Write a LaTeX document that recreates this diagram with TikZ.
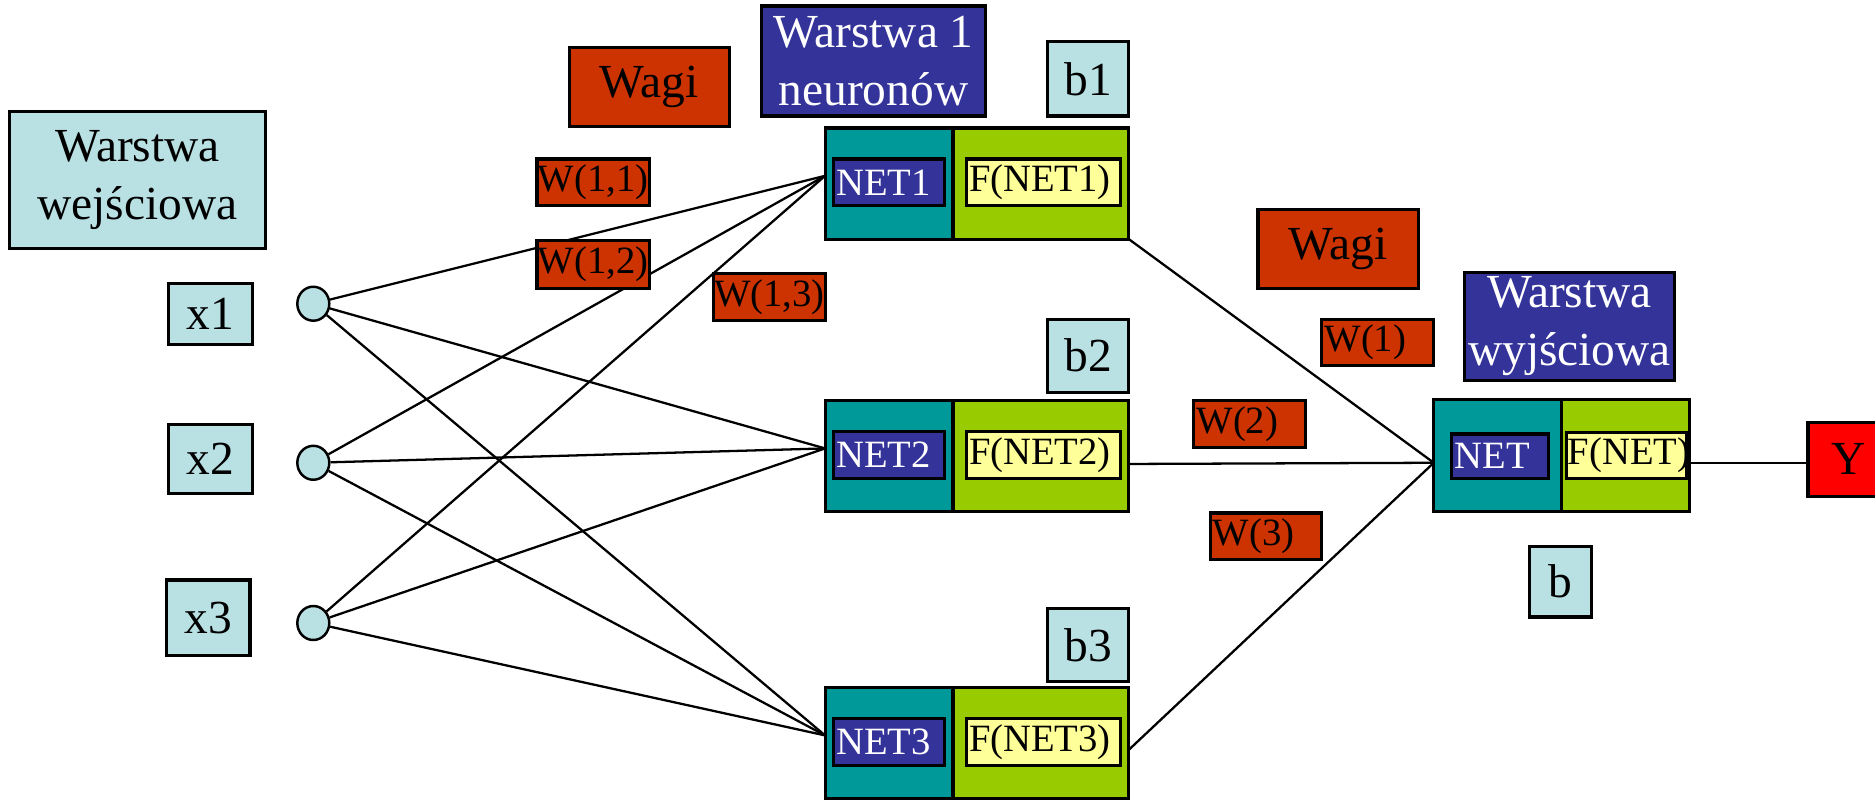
\documentclass[tikz,border=0pt]{standalone}
\usepackage{fontspec}
\setmainfont{Liberation Serif}
\usetikzlibrary{shapes.geometric,backgrounds}
\definecolor{lblue}{RGB}{185,224,227}
\definecolor{rust}{RGB}{204,51,0}
\definecolor{dblue}{RGB}{51,51,153}
\definecolor{tealb}{RGB}{0,153,153}
\definecolor{lgreen}{RGB}{153,204,0}
\definecolor{lyellow}{RGB}{255,255,153}
\definecolor{pred}{RGB}{255,0,0}
% \rbox{style}{name}{x1}{y1}{x2}{y2}{text}
\newcommand{\rbox}[7]{%
  \pgfmathsetmacro{\rcx}{(#3+#5)/2}%
  \pgfmathsetmacro{\rcy}{(#4+#6)/2}%
  \pgfmathsetmacro{\rww}{(#5-#3)*0.011958}%
  \pgfmathsetmacro{\rhh}{(#6-#4)*0.011958}%
  \node[#1, minimum width=\rww cm, minimum height=\rhh cm] (#2) at (\rcx,\rcy) {#7};%
}
\begin{document}
\begin{tikzpicture}[x=0.011958cm, y=-0.011958cm,
  bx/.style={draw=black, line width=0.9pt, inner sep=0pt, outer sep=0pt, align=center},
  bigf/.style={font=\fontsize{13.5}{16.5}\selectfont},
  smf/.style={font=\fontsize{11}{12}\selectfont},
  inbox/.style={bx, fill=lblue, bigf},
  wbox/.style={bx, fill=rust, smf},
  wagibox/.style={bx, fill=rust, bigf},
  layerbox/.style={bx, fill=dblue, text=white, bigf},
  tealpart/.style={bx, fill=tealb},
  greenpart/.style={bx, fill=lgreen},
  netbox/.style={bx, fill=dblue},
  fbox/.style={bx, fill=lyellow},
  nettext/.style={smf, text=white, inner sep=0.6pt, anchor=west},
  ftext/.style={smf, text=black, inner sep=0.6pt, anchor=west},
  inode/.style={draw=black, line width=0.7pt, fill=lblue, ellipse, inner sep=0pt},
  conn/.style={draw=black, line width=0.65pt}
]
\useasboundingbox (0,0) rectangle (1568,669);

% input layer
\rbox{inbox}{lin}{8}{93}{222}{208}{Warstwa\\wejściowa}
\rbox{inbox}{x1}{141}{237}{211}{288}{x1}
\rbox{inbox}{x2}{141}{355}{211}{413}{x2}
\rbox{inbox}{x3}{139}{485}{209}{548}{x3}

% weights labels
\rbox{wagibox}{wagi1}{476}{40}{610}{106}{Wagi}
\rbox{wbox}{w11}{449}{133}{543}{172}{W(1,1)}
\rbox{wbox}{w12}{449}{201}{543}{241}{W(1,2)}
\rbox{wbox}{w13}{597}{229}{690}{268}{W(1,3)}
\rbox{layerbox}{l1}{637}{5}{824}{97}{Warstwa 1\\neuronów}

% hidden neurons
\rbox{inbox}{b1}{876}{35}{944}{97}{b1}
\rbox{inbox}{b2}{876}{267}{944}{328}{b2}
\rbox{inbox}{b3}{876}{509}{944}{570}{b3}

\foreach \i/\t in {1/107,2/335,3/575}{
  \pgfmathtruncatemacro{\bb}{\t+93}
  \pgfmathtruncatemacro{\itop}{\t+26}
  \pgfmathtruncatemacro{\ibot}{\t+65}
  \rbox{tealpart}{t\i}{690}{\t}{797}{\bb}{}
  \rbox{greenpart}{g\i}{797}{\t}{944}{\bb}{}
  \rbox{netbox}{n\i}{697}{\itop}{790}{\ibot}{}
  \node[nettext] at (n\i.west) {NET\i};
  \rbox{fbox}{f\i}{808}{\itop}{937}{\ibot}{}
  \node[ftext] at (f\i.west) {F(NET\i)};
}

% second weights
\rbox{wagibox}{wagi2}{1052}{175}{1186}{241}{Wagi}
\rbox{wbox}{w1}{1105}{267}{1199}{306}{\makebox[1.06cm][l]{W(1)}}
\rbox{wbox}{w2}{998}{335}{1092}{374}{\makebox[1.06cm][l]{W(2)}}
\rbox{wbox}{w3}{1012}{429}{1105}{468}{\makebox[1.06cm][l]{W(3)}}

% output neuron
\rbox{layerbox}{lout}{1225}{228}{1400}{318}{Warstwa\\wyjściowa}
\rbox{tealpart}{to}{1199}{334}{1306}{428}{}
\rbox{greenpart}{go}{1306}{334}{1413}{428}{}
\rbox{netbox}{no}{1214}{363}{1295}{400}{}
\node[nettext] at (no.west) {NET};
\rbox{fbox}{fo}{1310}{362}{1410}{400}{}
\node[ftext, inner sep=0.2pt] at (fo.west) {F(NET)};
\rbox{inbox}{b}{1279}{457}{1331}{516}{b}
\rbox{bx, fill=pred, bigf}{y}{1512}{353}{1580}{415}{Y}

% input circles
\node[inode, minimum width=0.32cm, minimum height=0.34cm] (c1) at (262,254) {};
\node[inode, minimum width=0.32cm, minimum height=0.34cm] (c2) at (262,387) {};
\node[inode, minimum width=0.32cm, minimum height=0.34cm] (c3) at (262,521) {};

% convergence points
\coordinate (h1) at (690,147);
\coordinate (h2) at (690,375);
\coordinate (h3) at (690,615);
\coordinate (o2) at (944,388);
\coordinate (o3) at (944,627);
\coordinate (oin) at (1199,387);
\coordinate (oout) at (1413,387);

\begin{pgfonlayer}{background}
\foreach \c in {c1,c2,c3}{
  \foreach \h in {h1,h2,h3}{
    \draw[conn] (\c) -- (\h);
  }
}
\draw[conn] (g1.south east) -- (oin);
\draw[conn] (o2) -- (oin);
\draw[conn] (o3) -- (oin);
\draw[conn] (oout) -- (1512,387);
\end{pgfonlayer}
\end{tikzpicture}
\end{document}
